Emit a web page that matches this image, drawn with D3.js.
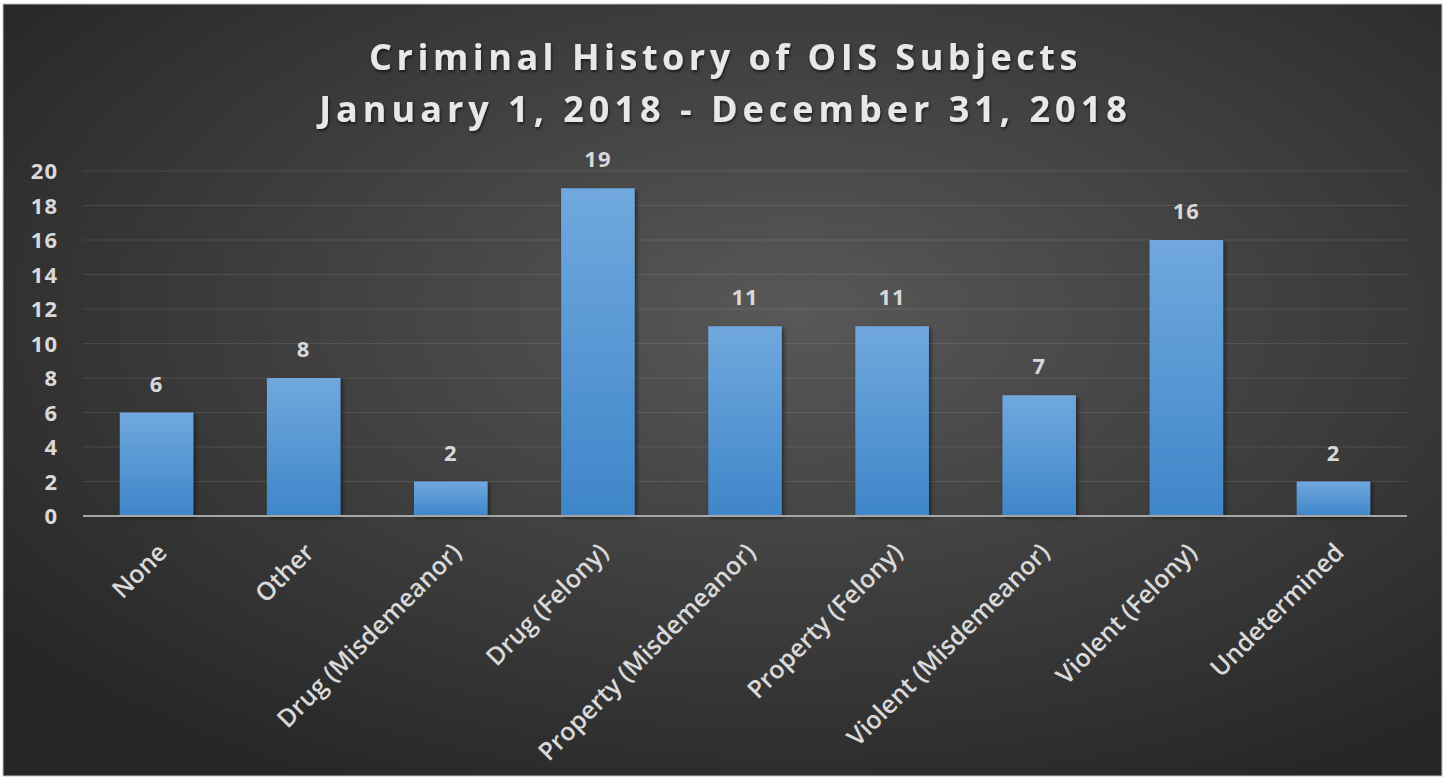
<!DOCTYPE html>
<html>
<head>
<meta charset="utf-8">
<script src="https://cdn.jsdelivr.net/npm/d3@7"></script>
<style>
  html, body { margin: 0; padding: 0; background: #fff; }
  text { font-family: "Open Sans", "DejaVu Sans", sans-serif; }
</style>
</head>
<body>
<svg id="chart"></svg>
<script>
// data
const categories = ["None", "Other", "Drug (Misdemeanor)", "Drug (Felony)", "Property (Misdemeanor)",
    "Property (Felony)", "Violent (Misdemeanor)", "Violent (Felony)", "Undetermined"];
const counts = [6, 8, 2, 19, 11, 11, 7, 16, 2];
const yTicks = [0, 2, 4, 6, 8, 10, 12, 14, 16, 18, 20];
const titleLines = ["Criminal History of OIS Subjects", "January 1, 2018 - December 31, 2018"];

const W = 1447, H = 779;
const margin = { top: 171, right: 40, bottom: 263, left: 83 };

const svg = d3.select('#chart')
    .attr('width', W)
    .attr('height', H);

const defs = svg.append('defs');

const bg = defs.append('radialGradient')
    .attr('id', 'bg')
    .attr('cx', '55%').attr('cy', '40%').attr('r', '70%');
bg.append('stop').attr('offset', '0%').attr('stop-color', '#585858');
bg.append('stop').attr('offset', '100%').attr('stop-color', '#262626');

const barGrad = defs.append('linearGradient')
    .attr('id', 'barGrad')
    .attr('x1', 0).attr('y1', 0).attr('x2', 0).attr('y2', 1);
barGrad.append('stop').attr('offset', '0%').attr('stop-color', '#70a8de');
barGrad.append('stop').attr('offset', '100%').attr('stop-color', '#3f86c9');

const shadow = defs.append('filter')
    .attr('id', 'shadow')
    .attr('x', '-20%').attr('y', '-20%').attr('width', '140%').attr('height', '140%');
shadow.append('feDropShadow')
    .attr('dx', 2).attr('dy', 2).attr('stdDeviation', 2)
    .attr('flood-color', '#000').attr('flood-opacity', 0.5);

const textShadow = defs.append('filter').attr('id', 'tshadow');
textShadow.append('feDropShadow')
    .attr('dx', 1).attr('dy', 2).attr('stdDeviation', 1.5)
    .attr('flood-color', '#000').attr('flood-opacity', 0.6);

// frame
svg.append('rect')
    .attr('x', 3).attr('y', 4)
    .attr('width', 1439).attr('height', 772)
    .attr('fill', 'url(#bg)')
    .attr('stroke', '#bfbfbf')
    .attr('stroke-width', 1);

const x = d3.scaleBand()
    .domain(categories)
    .range([margin.left, W - margin.right])
    .paddingInner(0.5)
    .paddingOuter(0.25);

const y = d3.scaleLinear()
    .domain([0, 20])
    .range([H - margin.bottom, margin.top]);

// gridlines
svg.append('g')
    .selectAll('line')
    .data(yTicks.slice(1))
    .enter().append('line')
    .attr('x1', margin.left)
    .attr('x2', W - margin.right)
    .attr('y1', d => y(d))
    .attr('y2', d => y(d))
    .style('stroke', '#ffffff')
    .style('stroke-opacity', 0.1)
    .style('stroke-width', 1);

// y axis labels
const yAxis = svg.append('g')
    .attr('transform', `translate(${margin.left},0)`)
    .call(d3.axisLeft(y).tickValues(yTicks).tickSize(0).tickPadding(25));
yAxis.select('.domain').remove();
yAxis.selectAll('text')
    .style('font-size', '22px')
    .style('font-weight', 'bold')
    .style('letter-spacing', '1px')
    .style('fill', '#d9d9d9')
    .attr('dy', '0.35em');

// bars
svg.append('g')
    .selectAll('rect')
    .data(counts)
    .enter().append('rect')
    .attr('x', (d, i) => x(categories[i]))
    .attr('y', d => y(d))
    .attr('width', x.bandwidth())
    .attr('height', d => y(0) - y(d))
    .attr('fill', 'url(#barGrad)')
    .attr('filter', 'url(#shadow)');

// value labels
svg.append('g')
    .selectAll('text')
    .data(counts)
    .enter().append('text')
    .text(d => d)
    .attr('x', (d, i) => x(categories[i]) + x.bandwidth() / 2)
    .attr('y', d => y(d) - 21)
    .attr('text-anchor', 'middle')
    .style('font-size', '22px')
    .style('font-weight', 'bold')
    .style('letter-spacing', '1px')
    .style('fill', '#d9d9d9');

// baseline
svg.append('line')
    .attr('x1', margin.left)
    .attr('x2', W - margin.right)
    .attr('y1', y(0))
    .attr('y2', y(0))
    .style('stroke', '#a6a6a6')
    .style('stroke-width', 2);

// category labels
const xAxis = svg.append('g')
    .attr('transform', `translate(0,${y(0)})`)
    .call(d3.axisBottom(x).tickSize(0).tickPadding(0));
xAxis.select('.domain').remove();
xAxis.selectAll('text')
    .attr('text-anchor', 'end')
    .attr('dy', 0)
    .attr('transform', 'translate(12,38) rotate(-45)')
    .style('font-size', '25px')
    .style('font-weight', '600')
    .style('fill', '#d9d9d9');

// title
svg.append('g')
    .selectAll('text')
    .data(titleLines)
    .enter().append('text')
    .text(d => d)
    .attr('x', W / 2 + 2)
    .attr('y', (d, i) => 70 + i * 52)
    .attr('text-anchor', 'middle')
    .style('font-size', '36px')
    .style('font-weight', 'bold')
    .style('letter-spacing', (d, i) => i === 0 ? '4.5px' : '5px')
    .style('fill', '#e8e8e8')
    .attr('filter', 'url(#tshadow)');
</script>
</body>
</html>
